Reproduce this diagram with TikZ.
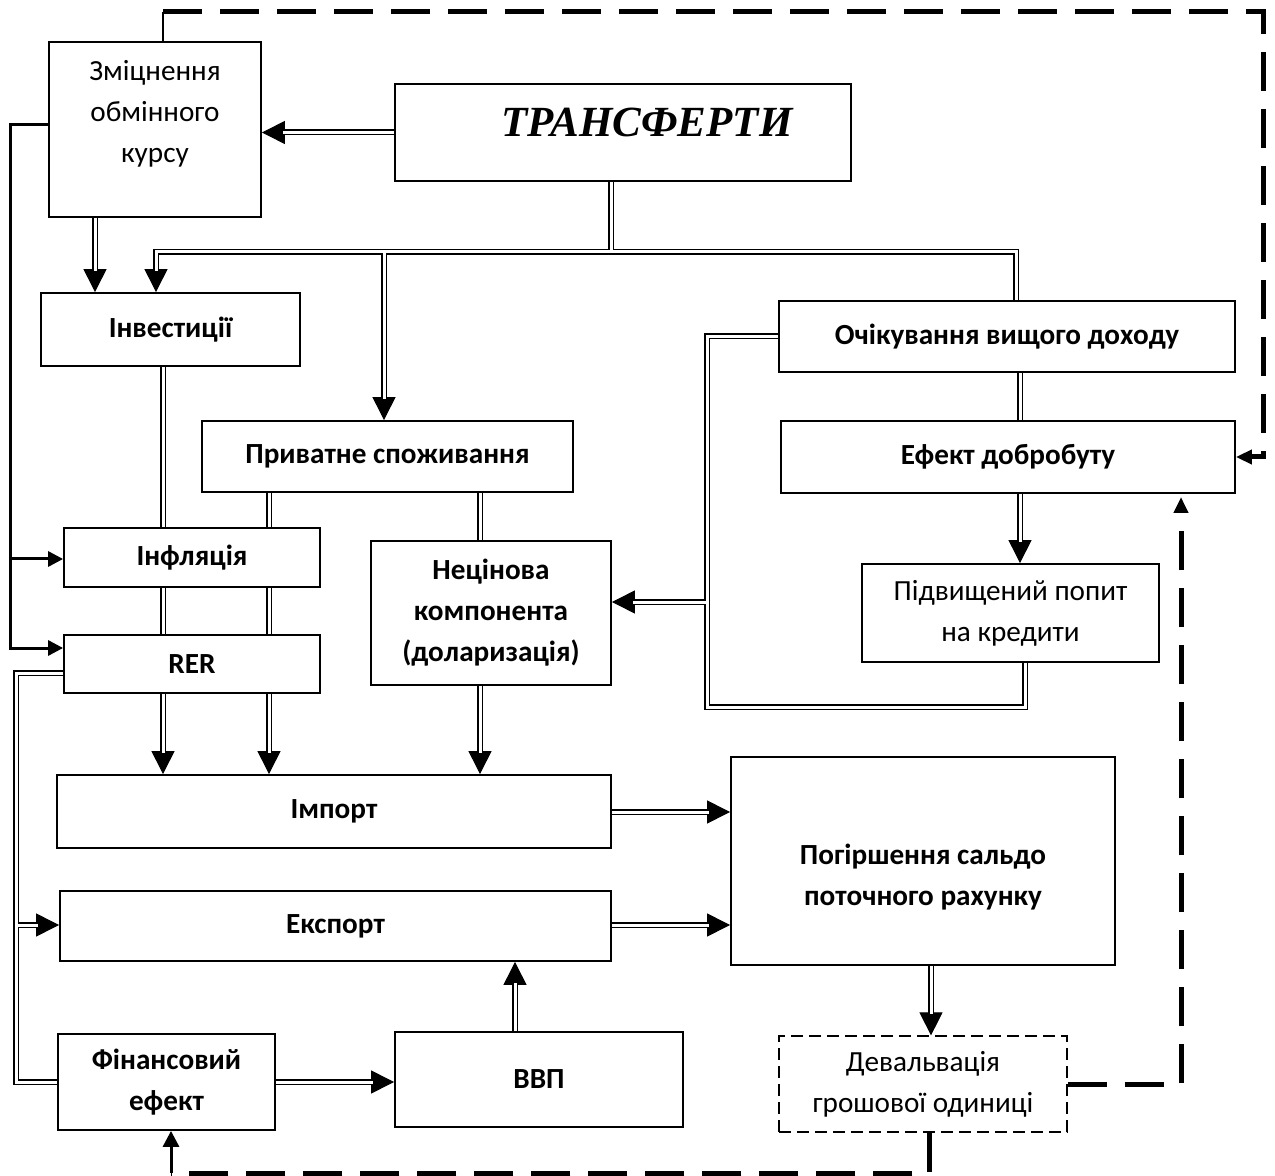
\documentclass[tikz,border=0pt]{standalone}
\usepackage{fontspec}
\setmainfont{Carlito}
\newfontfamily\trfont{Liberation Serif}
\usetikzlibrary{arrows.meta}
\tikzset{
  box/.style={draw, line width=0.9pt, inner sep=0pt, align=center, font=\fontsize{14.6}{20.5}\selectfont\bfseries},
  rbox/.style={box, font=\fontsize{14.6}{20.5}\selectfont},
  dbox/.style={rbox, dash pattern=on 6pt off 3pt, line width=0.6pt},
  txt/.style={inner sep=0pt, align=center, font=\fontsize{14.6}{20.5}\selectfont},
  btxt/.style={inner sep=0pt, align=center, font=\fontsize{14.6}{20.5}\selectfont\bfseries},
  dbl/.style={double, line width=0.75pt, double distance=1.5pt},
  tipln/.style={line width=0.5pt, -{Triangle[length=11.5pt,width=11.5pt]}},
  thk/.style={line width=1.5pt},
  thka/.style={thk, -{Triangle[length=7.5pt,width=7.5pt]}},
  dsh/.style={line width=2.5pt, dash pattern=on 19.5pt off 9pt},
  dsha/.style={dsh, -{Triangle[length=8pt,width=7pt]}},
}
\newcommand\darr[1]{\draw[tipln] #1; \draw[dbl, shorten >=10.5pt] #1;}
\begin{document}
\begin{tikzpicture}[x=0.5pt,y=-0.5pt]
\fill[white] (0,0) rectangle (1275,1176);
\useasboundingbox (0,0) rectangle (1275,1176);

% boxes
\node[rbox, minimum width=106pt, minimum height=87.5pt] (zm) at (155,129.5) {};
\node[txt] (zmt) at (155,114) {Зміцнення\\обмінного\\курсу};
\node[box, minimum width=228pt, minimum height=48.5pt] (tr) at (623,132.5) {};
\node[inner sep=0pt, font=\trfont\bfseries\itshape\fontsize{21.5}{25}\selectfont] (trt) at (647,122) {ТРАНСФЕРТИ};
\node[box, minimum width=129.5pt, minimum height=36.5pt] (inv) at (170.5,329.5) {Інвестиції};
\node[box, minimum width=228pt, minimum height=35.5pt] (och) at (1007,336.5) {Очікування вищого доходу};
\node[box, minimum width=185.5pt, minimum height=35.5pt] (priv) at (387.5,456.5) {Приватне споживання};
\node[box, minimum width=227pt, minimum height=36pt] (ef) at (1008,457) {Ефект добробуту};
\node[box, minimum width=128pt, minimum height=29.5pt] (inf) at (192,557.5) {Інфляція};
\node[box, minimum width=120pt, minimum height=72pt] (nec) at (491,613) {Нецінова\\компонента\\(доларизація)};
\node[rbox, minimum width=148.5pt, minimum height=49pt] (pid) at (1010.5,613) {Підвищений попит\\на кредити};
\node[box, minimum width=128pt, minimum height=29pt] (rer) at (192,664) {RER};
\node[box, minimum width=277pt, minimum height=36.5pt] (imp) at (334,811.5) {Імпорт};
\node[box, minimum width=192pt, minimum height=104pt] (pog) at (923,861) {};
\node[btxt] (pogt) at (923,877) {Погіршення сальдо\\поточного рахунку};
\node[box, minimum width=275.5pt, minimum height=35pt] (exp) at (335.5,926) {Експорт};
\node[box, minimum width=108.5pt, minimum height=48pt] (fin) at (166.5,1082) {Фінансовий\\ефект};
\node[box, minimum width=144pt, minimum height=47.5pt] (gdp) at (539,1079.5) {ВВП};
\node[dbox, minimum width=144pt, minimum height=48pt] (dev) at (923,1084) {Девальвація\\грошової одиниці};

% helper coordinates
\coordinate (c95) at (95,0);
\coordinate (busR) at (1016,252);
\coordinate (busL) at (156,252);
\coordinate (busM) at (384,253.5);
\coordinate (busT) at (611,250.5);
\coordinate (cA) at (163,0);
\coordinate (cB) at (269,0);
\coordinate (cC) at (480,0);
\coordinate (L1) at (707,707);
\coordinate (L2) at (705.5,602);
\coordinate (cD) at (1025,0);
\coordinate (cE) at (1020,0);
\coordinate (cF) at (0,812);
\coordinate (cG) at (0,925);
\coordinate (cH) at (931,0);
\coordinate (cI) at (515,0);
\coordinate (cJ) at (16,673);
\coordinate (cK) at (16,1082);
\coordinate (cL) at (17.5,925);
\coordinate (s1) at (10,125);
\coordinate (s2) at (10,648);
\coordinate (s3) at (10,559);
\coordinate (d0) at (163,12);
\coordinate (d1) at (1263,12);
\coordinate (e1) at (1181,497);
\coordinate (f0) at (929,0);
\coordinate (f1) at (929,1173);
\coordinate (f2) at (171,1173);

% double connectors
\darr{(tr.west) -- (tr.west -| zm.east)}
\darr{(c95 |- zm.south) -- (c95 |- inv.north)}
\darr{(busR |- och.north) -- (busR) -- (busL) -- (busL |- inv.north)}
\darr{(busM) -- (busM |- priv.north)}
\draw[dbl] (busT |- tr.south) -- (busT);
\draw[dbl] (cA |- inv.south) -- (cA |- inf.north);
\draw[dbl] (cB |- priv.south) -- (cB |- inf.north);
\draw[dbl] (cA |- inf.south) -- (cA |- rer.north);
\draw[dbl] (cB |- inf.south) -- (cB |- rer.north);
\darr{(cA |- rer.south) -- (cA |- imp.north)}
\darr{(cB |- rer.south) -- (cB |- imp.north)}
\draw[dbl] (cC |- priv.south) -- (cC |- nec.north);
\darr{(cC |- nec.south) -- (cC |- imp.north)}
\draw[dbl] (och.west) -| (L1) -| (cD |- pid.south);
\darr{(L2) -- (L2 -| nec.east)}
\draw[dbl] (cE |- och.south) -- (cE |- ef.north);
\darr{(cE |- ef.south) -- (cE |- pid.north)}
\darr{(cF -| imp.east) -- (cF -| pog.west)}
\darr{(cG -| exp.east) -- (cG -| pog.west)}
\darr{(cH |- pog.south) -- (cH |- dev.north)}
\darr{(cI |- gdp.north) -- (cI |- exp.south)}
\darr{(fin.east) -- (fin.east -| gdp.west)}
\draw[dbl] (cJ -| rer.west) -- (cJ) -- (cK) -- (fin.west);
\darr{(cL) -- (cL -| exp.west)}

% solid thick connectors
\draw[thka] (s1 -| zm.west) -- (s1) -- (s2) -- (s2 -| rer.west);
\draw[thka] (s3) -- (s3 -| inf.west);

% dashed feedback
\draw[line width=0.75pt] (d0 |- zm.north) -- (d0);
\draw[dsha] (d0) -- (d1) |- (ef.east);
\draw[dsha] (dev.east) -| (e1);
\draw[dsh] (f0 |- dev.south) -- (f1) -- (f2);
\draw[thk, -{Triangle[length=8pt,width=8pt]}] (f2) -- (f2 |- fin.south);
\end{tikzpicture}
\end{document}
